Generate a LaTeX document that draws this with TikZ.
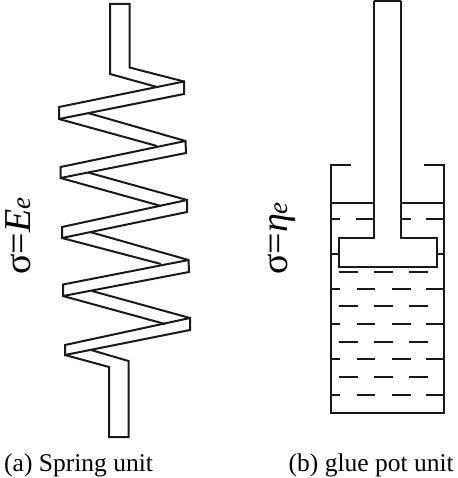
\documentclass[tikz,border=0pt]{standalone}
\usepackage{fontspec}
\setmainfont{Liberation Serif}
\newcommand{\smalle}{\fontsize{27}{30}\selectfont\textit{e}}
\tikzset{
  ln/.style={draw=black!90,line width=2pt,line join=miter},
  captext/.style={inner sep=0pt,anchor=base west,font=\fontsize{25.5}{28}\selectfont},
  sidetext/.style={inner sep=0pt,anchor=base west,rotate=90,font=\fontsize{38}{40}\selectfont}
}
\begin{document}
\begin{tikzpicture}[x=1pt,y=-1pt]
\useasboundingbox (0,0) rectangle (457,478);
% spring
\draw[ln] (157,87)--(110,74)--(110,4)--(129.5,4)--(129.5,67.5)--(184,81.5);
\draw[ln] (184,81.5)--(59,107)--(59,119)--(184,94)--cycle;
\draw[ln] (88,113)--(185.5,141);
\draw[ln] (59,119)--(157,146);
\draw[ln] (185.5,141)--(60.5,167)--(60.5,178)--(186,153)--cycle;
\draw[ln] (88,172.5)--(187,200);
\draw[ln] (60.5,178)--(161,206);
\draw[ln] (187,200)--(62,227)--(62,238)--(187,212)--cycle;
\draw[ln] (90,232)--(188.5,260);
\draw[ln] (62,238)--(161,264);
\draw[ln] (188.5,260)--(63,284.5)--(63,296)--(189,272)--cycle;
\draw[ln] (92,291)--(190,318);
\draw[ln] (63,296)--(165,324);
\draw[ln] (190,318)--(65,345)--(65,355)--(190,330)--cycle;
\draw[ln] (65,355)--(109,367)--(109,437)--(128.5,437)--(128.5,361)--(91,350);
% pot
\draw[ln] (351,165)--(331,165)--(331,413)--(444,413)--(444,165)--(424,165);
\draw[ln] (331,203.3)--(374.3,203.3);
\draw[ln] (401,203.3)--(444,203.3);
\draw[ln] (374.3,1)--(401,1);
\draw[ln] (374.3,1)--(374.3,238.3)--(339.3,238.3)--(339.3,267.3)--(436.7,267.3)--(436.7,238.3)--(401,238.3)--(401,1);
\draw[ln] (331,254)--(339.3,254);
\draw[ln] (436.7,254)--(444,254);
\draw[ln] (331,219)--(340,219) (356,219)--(374.3,219) (401,219)--(411,219) (426,219)--(444,219);
\foreach \y in {271.7,306,341.7,376.7}
  \draw[ln] (339,\y)--(358,\y) (374,\y)--(393,\y) (409,\y)--(428,\y);
\foreach \y in {289,324,359,394.7}
  \draw[ln] (331,\y)--(340,\y) (356.5,\y)--(375,\y) (392,\y)--(411,\y) (426,\y)--(444,\y);
% text
\node[sidetext] (s1) at (30,275) {σ=\textit{E}\smalle};
\node[sidetext] (s2) at (287,275) {σ=\textit{η}\smalle};
\node[captext] (c1) at (4,471) {(a) Spring unit};
\node[captext] (c2) at (288.5,471) {(b) glue pot unit};
\end{tikzpicture}
\end{document}
